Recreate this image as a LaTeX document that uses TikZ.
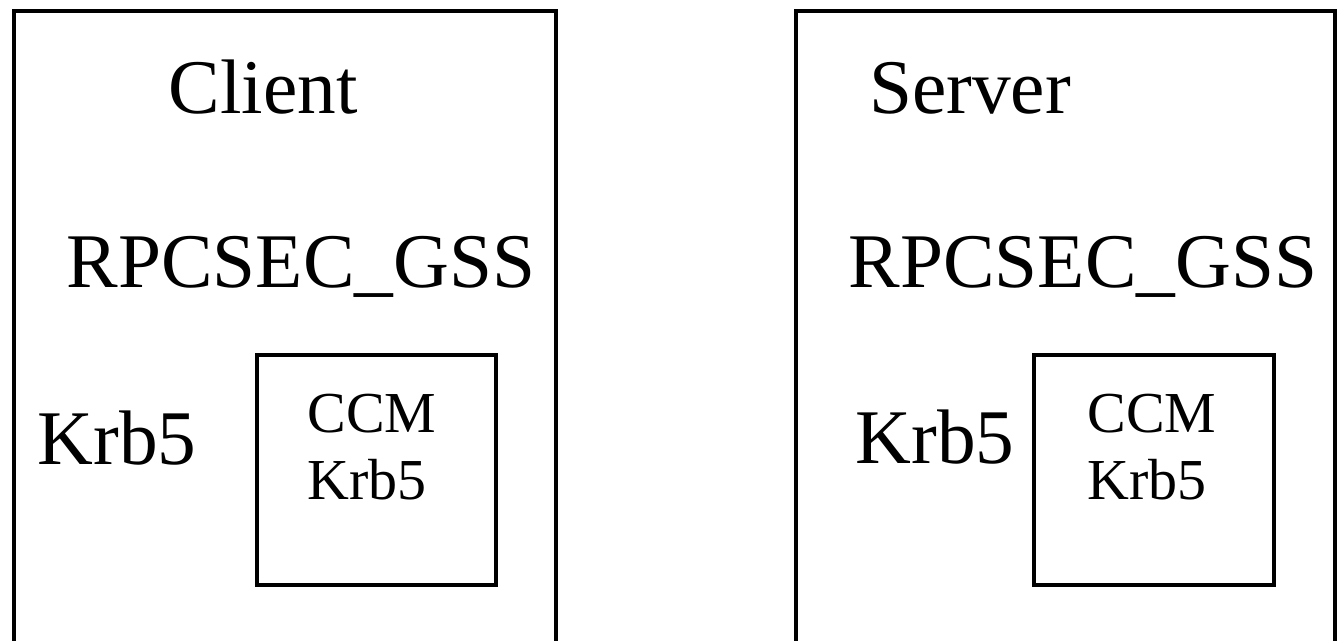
\documentclass[tikz,border=0pt]{standalone}
\usepackage{fontspec}
\setmainfont{Liberation Serif}
\usetikzlibrary{positioning}

\begin{document}
\begin{tikzpicture}[x=0.02cm, y=-0.02cm,
        host/.style={draw, line width=0.08cm, inner sep=0pt, minimum height=13.8cm},
        mech/.style={draw, line width=0.08cm, inner sep=0pt, minimum width=4.8cm, minimum height=4.6cm},
        big/.style={inner sep=0pt, anchor=base, font=\fontsize{44}{50}\selectfont},
        small/.style={inner sep=0pt, anchor=base west, font=\fontsize{33}{38}\selectfont}
    ]
        \clip (0,0) rectangle (1338,641);

        % left side
        \node[host, minimum width=10.84cm] (cli) at (285,356) {};
        \node[mech] (cliccm) at (376.5,470) {};
        \node[big] (clilbl) at (263,114) {Client};
        \node[big] (cligss) at (301,288) {RPCSEC\_GSS};
        \node[big] (clikrb) at (117,464) {Krb5};
        \node[small] (cliccmtxt) at (307,433) {CCM};
        \node[small, below=1.34cm of cliccmtxt.base west, anchor=base west] (cliccmkrb) {Krb5};

        % right side
        \node[host, minimum width=10.78cm] (srv) at (1065.5,356) {};
        \node[mech] (srvccm) at (1154,470) {};
        \node[big] (srvlbl) at (970,114) {Server};
        \node[big] (srvgss) at (1083,288) {RPCSEC\_GSS};
        \node[big] (srvkrb) at (935,463) {Krb5};
        \node[small] (srvccmtxt) at (1087,433) {CCM};
        \node[small, below=1.34cm of srvccmtxt.base west, anchor=base west] (srvccmkrb) {Krb5};
    \end{tikzpicture}
\end{document}
